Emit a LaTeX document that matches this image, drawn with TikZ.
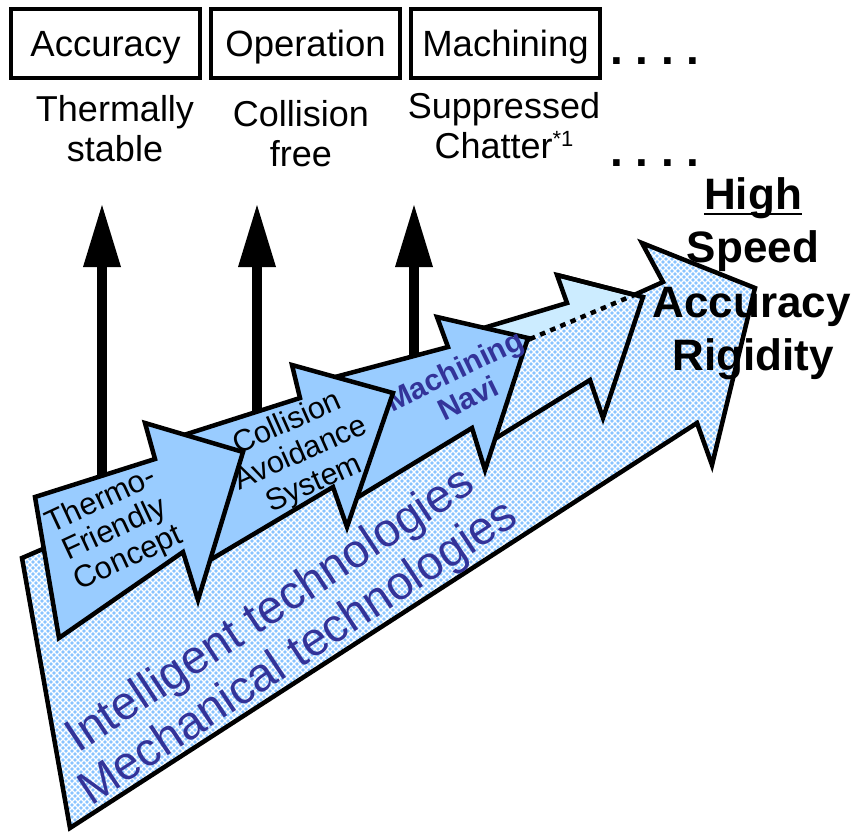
\documentclass[tikz,border=0pt]{standalone}
\usepackage{fontspec}
\setmainfont{Liberation Sans}
\usetikzlibrary{arrows.meta,patterns}

\definecolor{arrowblue}{RGB}{153,204,255}
\definecolor{paleblue}{RGB}{204,236,255}
\definecolor{patternbase}{RGB}{138,196,255}
\definecolor{techblue}{RGB}{51,51,153}

% fine diagonal lattice used inside the large technology arrow
\pgfdeclarepatternformonly{lattice}{\pgfqpoint{-1pt}{-1pt}}{\pgfqpoint{7pt}{7pt}}{\pgfqpoint{6pt}{6pt}}{%
  \pgfsetlinewidth{1.3pt}%
  \pgfpathmoveto{\pgfqpoint{0pt}{0pt}}\pgfpathlineto{\pgfqpoint{6pt}{6pt}}%
  \pgfpathmoveto{\pgfqpoint{0pt}{6pt}}\pgfpathlineto{\pgfqpoint{6pt}{0pt}}%
  \pgfusepath{stroke}}

\newcommand\setfs[2]{\fontsize{#1}{#2}\selectfont}

\begin{document}
\begin{tikzpicture}[x=1pt,y=-1pt,
  edge/.style={draw=black,line width=4.5pt,line join=miter,miter limit=5},
  smallarrow/.style={edge,fill=arrowblue},
  uparrow/.style={line width=10pt,-{Triangle[length=62pt,width=38pt,line width=0pt]}},
  topbox/.style={draw=black,line width=4pt,minimum width=189pt,minimum height=69pt,
    inner sep=0pt,font=\setfs{36.5}{40},text height=25.5pt,text depth=0pt},
  goal/.style={align=center,inner sep=0pt,font=\setfs{36}{40}},
  steptext/.style={align=center,inner sep=0pt,font=\setfs{31}{32}},
  techtext/.style={align=center,inner sep=0pt,text=techblue,font=\setfs{47}{51}},
  bigword/.style={anchor=base,inner sep=0pt,font=\bfseries\setfs{44}{50}},
  dots/.style={anchor=base,inner sep=0pt,font=\bfseries\setfs{46}{50}}]

\useasboundingbox (0,0) rectangle (854,832);

% ---- intelligent technologies arrow (pale, behind) ----
\path[fill=paleblue] (460,335) -- (567,303) -- (557,275) -- (643,297)
  -- (603,418) -- (590,380) -- (480,448) -- cycle;
\draw[edge] (460,335) -- (567,303) -- (557,275) -- (643,297)
  -- (603,418) -- (590,380) -- (480,448) -- cycle;

% ---- mechanical technologies arrow (patterned, front) ----
\path[fill=patternbase] (22,558) -- (663,282) -- (642,243) -- (755,288)
  -- (712,465) -- (697,423) -- (70,828) -- cycle;
\path[pattern=lattice,pattern color=white] (22,558) -- (663,282) -- (642,243)
  -- (755,288) -- (712,465) -- (697,423) -- (70,828) -- cycle;
\draw[edge] (634,295) -- (663,282) -- (642,243) -- (755,288) -- (712,465)
  -- (697,423) -- (70,828) -- (22,558) -- (530,339);
\draw[edge,line cap=butt,dash pattern=on 5.5pt off 5.5pt] (530,339) -- (634,295);

% outline of the pale arrow head seen through the pattern
\draw[edge] (480,448) -- (590,380) -- (603,418) -- (643,297) -- (557,275);

\node[techtext,rotate=33.5] (tech) at (285,633)
  {Intelligent technologies\\Mechanical technologies};

% ---- upward arrows towards the goals ----
\coordinate (up1base) at (102,490);
\coordinate (up1tip)  at (102,205);
\coordinate (up2base) at (257,425);
\coordinate (up2tip)  at (257,205);
\coordinate (up3base) at (414,372);
\coordinate (up3tip)  at (414,205);
\draw[uparrow] (up1base) -- (up1tip);
\draw[uparrow] (up2base) -- (up2tip);
\draw[uparrow] (up3base) -- (up3tip);

% ---- Machining Navi ----
\draw[smallarrow] (320,381) -- (448,347) -- (437,317) -- (528,338)
  -- (485,470) -- (472,428) -- (345,505) -- cycle;
\node[align=center,inner sep=0pt,text=techblue,font=\bfseries\setfs{30}{31},rotate=26]
  (navi) at (461,384) {Machining\\Navi};

% ---- Collision Avoidance System ----
\draw[smallarrow] (165,441) -- (300,398) -- (292,365) -- (393,393)
  -- (347,527) -- (333,487) -- (200,566) -- cycle;
\node[steptext,font=\setfs{30.5}{33},rotate=24] (cas) at (301,454)
  {Collision\\Avoidance\\System};

% ---- Thermo-Friendly Concept ----
\draw[smallarrow] (35,497) -- (155,459) -- (145,423) -- (243,452)
  -- (198,600) -- (183,552) -- (59,638) -- cycle;
\node[steptext,rotate=25] (tfc) at (115,530) {Thermo-\\Friendly\\Concept};

% ---- goal boxes and results ----
\node[topbox] (box1) at (105.5,43.5) {Accuracy};
\node[topbox] (box2) at (305.5,43.5) {Operation};
\node[topbox] (box3) at (505.5,43.5) {Machining};

\node[goal] (lab1) at (115,129) {Thermally\\stable};
\node[goal] (lab2) at (301,134) {Collision\\free};
\node[goal] (lab3) at (504,126)
  {Suppressed\\Chatter\raisebox{0.33em}{\setfs{22}{22}*1}};

\node[dots] (dots1) at (655,65) {.\ .\ .\ .};
\node[dots] (dots2) at (655,167) {.\ .\ .\ .};

% ---- targets ----
\node[bigword] (high)  at (753,209) {High};
\draw[line width=2.8pt] ([yshift=-5pt]high.base west) -- ([yshift=-5pt]high.base east);
\node[bigword] (speed) at (753,262) {Speed};
\node[bigword] (accu)  at (751.5,317) {Accuracy};
\node[bigword] (rigid) at (753,370) {Rigidity};

\end{tikzpicture}
\end{document}
